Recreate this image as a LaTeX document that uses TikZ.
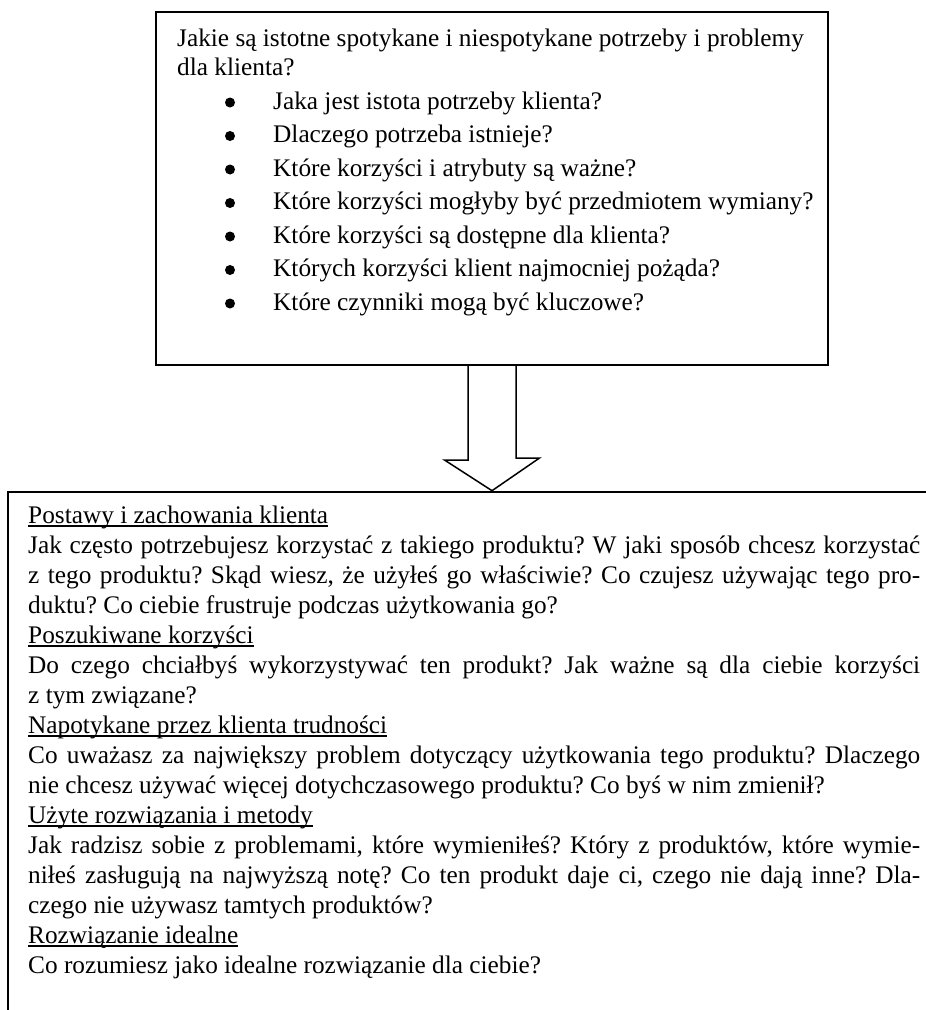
\documentclass[tikz,border=0pt]{standalone}
\usepackage{fontspec}
\setmainfont{Liberation Serif}
\usetikzlibrary{calc}
\frenchspacing
\newcommand\myul[1]{\setbox0=\hbox{#1}\rlap{\rule[-3.8pt]{\wd0}{1.4pt}}\box0}
\newcommand\jline[1]{\makebox[892pt][s]{#1}}
\begin{document}
\begin{tikzpicture}[x=1pt,y=-1pt,
  txt/.style={anchor=base west,inner sep=0pt,font=\fontsize{25.3pt}{29.9pt}\selectfont\frenchspacing},
  box/.style={draw,line width=2pt,inner sep=0pt,rectangle},
  dot/.style={circle,fill,inner sep=0pt,minimum size=10pt},
  blockarrow/.style={draw,line width=1.5pt,line join=miter}]
\useasboundingbox (0,0) rectangle (926,1010);
\clip (0,0) rectangle (926,1010);
% boxes
\node[box,minimum width=672pt,minimum height=353pt] (top) at (492,188.5) {};
\node[box,minimum width=927pt,minimum height=530pt] (bot) at (471.65,756.7) {};
% block arrow
\draw[blockarrow] ($(top.south)+(-24,0)$) -- ++(0,94) -- ++(-23.5,0)
  -- (top.south |- bot.north) -- ++(47.5,-32.7) -- ++(-23.5,0)
  -- ($(top.south)+(24,0)$);
% top box text
\node[txt] (t1) at (177,46.5) {Jakie są istotne spotykane i niespotykane potrzeby i problemy};
\node[txt] (t2) at (177,75) {dla klienta?};
\node[dot] (d1) at (230,102.5) {};
\node[txt] (q1) at (273,109) {Jaka jest istota potrzeby klienta?};
\node[dot] (d2) at (230,136) {};
\node[txt] (q2) at (273,142.5) {Dlaczego potrzeba istnieje?};
\node[dot] (d3) at (230,169.5) {};
\node[txt] (q3) at (273,176) {Które korzyści i atrybuty są ważne?};
\node[dot] (d4) at (230,203) {};
\node[txt] (q4) at (273,209.5) {Które korzyści mogłyby być przedmiotem wymiany?};
\node[dot] (d5) at (230,236.5) {};
\node[txt] (q5) at (273,243) {Które korzyści są dostępne dla klienta?};
\node[dot] (d6) at (230,270) {};
\node[txt] (q6) at (273,276.5) {Których korzyści klient najmocniej pożąda?};
\node[dot] (d7) at (230,303.5) {};
\node[txt] (q7) at (273,310) {Które czynniki mogą być kluczowe?};
% bottom box text
\node[txt] (b1) at (28,523) {\myul{Postawy i zachowania klienta}};
\node[txt] (b2) at (28,553) {\jline{Jak często potrzebujesz korzystać z takiego produktu? W jaki sposób chcesz korzystać}};
\node[txt] (b3) at (28,583) {\jline{z tego produktu? Skąd wiesz, że użyłeś go właściwie? Co czujesz używając tego pro-}};
\node[txt] (b4) at (28,613) {duktu? Co ciebie frustruje podczas użytkowania go?};
\node[txt] (b5) at (28,643) {\myul{Poszukiwane korzyści}};
\node[txt] (b6) at (28,673) {\jline{Do czego chciałbyś wykorzystywać ten produkt? Jak ważne są dla ciebie korzyści}};
\node[txt] (b7) at (28,703) {z tym związane?};
\node[txt] (b8) at (28,733) {\myul{Napotykane przez klienta trudności}};
\node[txt] (b9) at (28,763) {\jline{Co uważasz za największy problem dotyczący użytkowania tego produktu? Dlaczego}};
\node[txt] (b10) at (28,793) {nie chcesz używać więcej dotychczasowego produktu? Co byś w nim zmienił?};
\node[txt] (b11) at (28,823) {\myul{Użyte rozwiązania i metody}};
\node[txt] (b12) at (28,853) {\jline{Jak radzisz sobie z problemami, które wymieniłeś? Który z produktów, które wymie-}};
\node[txt] (b13) at (28,883) {\jline{niłeś zasługują na najwyższą notę? Co ten produkt daje ci, czego nie dają inne? Dla-}};
\node[txt] (b14) at (28,913) {czego nie używasz tamtych produktów?};
\node[txt] (b15) at (28,943) {\myul{Rozwiązanie idealne}};
\node[txt] (b16) at (28,973) {Co rozumiesz jako idealne rozwiązanie dla ciebie?};
\end{tikzpicture}
\end{document}
